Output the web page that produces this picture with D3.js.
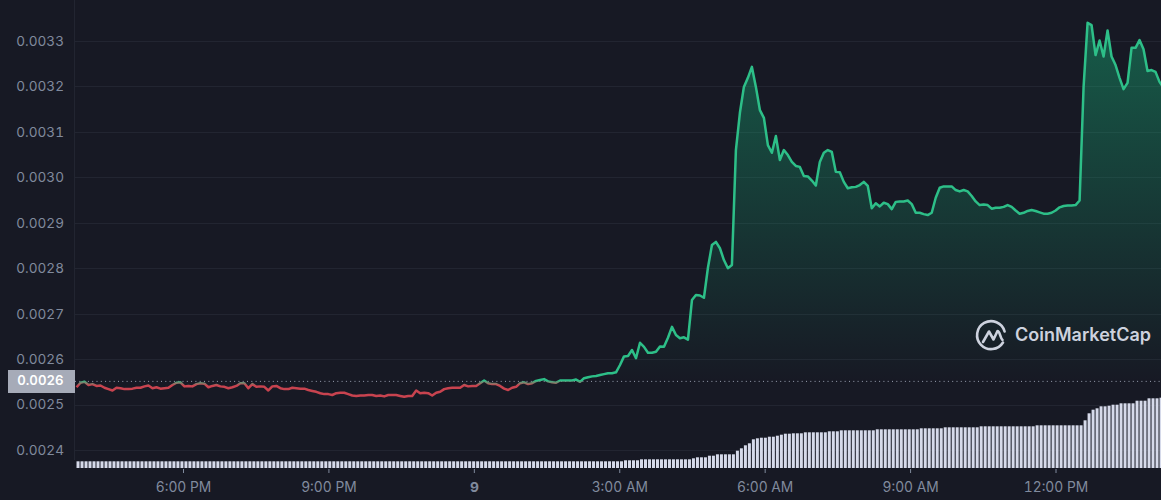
<!DOCTYPE html>
<html>
<head>
<meta charset="utf-8">
<script src="https://cdn.jsdelivr.net/npm/d3@7/dist/d3.min.js"></script>
<style>
html,body{margin:0;padding:0;background:#171924;overflow:hidden}
svg{display:block}
text{font-family:Inter,"Noto Sans",sans-serif;font-variant-numeric:tabular-nums}
</style>
</head>
<body>
<svg id="chart" width="1161" height="500"></svg>
<script>
// Price, in millionths (0.002538 = 2538)
const priceMillionths = [
2538,2548,2550,2543,2545,2541,2542,2537,2534,2531,
2537,2536,2534,2534,2535,2537,2537,2540,2542,2536,
2538,2535,2536,2537,2543,2548,2549,2540,2541,2540,
2545,2547,2546,2538,2541,2543,2540,2539,2536,2538,
2541,2547,2547,2536,2545,2539,2540,2539,2531,2540,
2541,2536,2534,2534,2537,2536,2535,2535,2532,2530,
2528,2525,2523,2523,2521,2525,2526,2526,2523,2520,
2519,2520,2520,2521,2521,2519,2520,2518,2521,2521,
2521,2519,2517,2519,2519,2531,2525,2526,2525,2520,
2526,2528,2534,2536,2537,2537,2537,2543,2540,2541,
2541,2547,2553,2547,2545,2545,2541,2535,2532,2537,
2539,2547,2549,2545,2547,2552,2554,2556,2551,2549,
2548,2553,2553,2553,2553,2555,2550,2558,2560,2562,
2563,2565,2567,2569,2569,2571,2587,2606,2607,2620,
2602,2636,2627,2614,2614,2616,2628,2627,2647,2671,
2653,2646,2648,2643,2730,2741,2740,2735,2801,2851,
2858,2844,2818,2800,2807,3060,3142,3199,3219,3243,
3199,3148,3131,3071,3054,3091,3038,3060,3049,3034,
3025,3023,3003,3002,2993,2982,3034,3054,3060,3056,
3012,3011,2990,2976,2978,2979,2983,2990,2981,2932,
2943,2936,2944,2941,2930,2946,2947,2947,2949,2941,
2922,2922,2919,2917,2922,2955,2977,2980,2980,2980,
2972,2969,2972,2969,2959,2947,2939,2940,2939,2931,
2933,2933,2935,2939,2935,2927,2920,2922,2926,2928,
2926,2923,2920,2920,2922,2927,2934,2937,2938,2938,
2939,2949,3199,3340,3335,3269,3301,3266,3323,3266,
3247,3219,3194,3208,3285,3285,3302,3282,3234,3236,
3232,3210,3197
];
// Volume bars, relative units
const volumes = [
67,67,67,67,67,67,67,67,67,67,67,67,67,67,67,67,67,67,67,67,
67,67,67,67,67,67,67,67,67,67,67,67,67,67,67,67,67,67,67,67,
67,67,67,67,67,67,67,67,67,67,67,67,67,67,67,67,67,67,67,67,
67,67,67,67,67,67,67,67,67,67,67,67,67,67,67,67,67,67,67,67,
67,67,67,67,67,67,67,67,67,67,67,67,67,67,67,67,67,67,67,67,
67,67,67,67,67,67,67,67,67,67,67,67,67,67,67,67,67,67,67,67,
67,67,67,67,67,67,67,67,67,67,67,67,67,67,67,67,67,
77,77,77,77,
87,87,87,87,87,87,87,87,87,87,87,87,87,
97,107,107,107,123,123,
137,137,137,137,137,
173,197,227,247,287,297,303,303,313,313,323,333,343,343,347,347,347,
357,357,357,357,357,357,
367,367,367,
377,377,377,377,377,377,377,377,377,
387,387,387,387,387,387,387,387,387,387,387,
397,397,397,397,397,397,
407,407,407,407,407,407,407,407,407,
417,417,417,417,417,417,417,417,417,417,417,417,417,417,
427,427,427,427,427,427,427,427,427,427,427,427,477,
547,583,597,617,617,623,633,633,647,647,647,647,673,673,673,697,697,697,703,703
];
const baselinePrice = 0.002551;
const baselineLabel = "0.0026";
const priceTicks = [0.0024,0.0025,0.0026,0.0027,0.0028,0.0029,0.0030,0.0031,0.0032,0.0033];
const timeTicks = [
  new Date(2023,0,8,18,0), new Date(2023,0,8,21,0), new Date(2023,0,9,0,0), new Date(2023,0,9,3,0),
  new Date(2023,0,9,6,0), new Date(2023,0,9,9,0), new Date(2023,0,9,12,0)
];
const timeLabels = ["6:00 PM","9:00 PM","9","3:00 AM","6:00 AM","9:00 AM","12:00 PM"];
const brand = "CoinMarketCap";
const firstSample = new Date(2023,0,8,15,48,12);
const sampleSeconds = 296.8;

const prices = priceMillionths.map(v => v/1e6);
const times = prices.map((_,i) => new Date(firstSample.getTime() + i*sampleSeconds*1000));

const svg = d3.select("#chart");
const x = d3.scaleTime().domain([timeTicks[0],timeTicks[6]]).range([183,1055.5]);
const y = d3.scaleLinear().domain([0.0024,0.0033]).range([450,41]);
const yV = d3.scaleLinear().domain([0,700]).range([468,398]);
const baseY = y(baselinePrice);
const muted = "#808a9d";

const defs = svg.append("defs");
const stroke = defs.append("linearGradient").attr("id","strokeGrad").attr("gradientUnits","userSpaceOnUse")
  .attr("x1",0).attr("x2",0).attr("y1",baseY-1).attr("y2",baseY+4);
stroke.append("stop").attr("offset",0).attr("stop-color","#2dbf88");
stroke.append("stop").attr("offset",1).attr("stop-color","#c8434f");
const fill = defs.append("linearGradient").attr("id","fillGrad").attr("gradientUnits","userSpaceOnUse")
  .attr("x1",0).attr("x2",0).attr("y1",25).attr("y2",baseY);
fill.append("stop").attr("offset",0).attr("stop-color","#16c784").attr("stop-opacity",0.38);
fill.append("stop").attr("offset",1).attr("stop-color","#16c784").attr("stop-opacity",0);
defs.append("clipPath").attr("id","aboveBase").append("rect").attr("x",75).attr("y",0).attr("width",1086).attr("height",baseY);

// grid and axis frame
svg.append("g").selectAll("line").data(priceTicks).join("line")
  .attr("x1",75).attr("x2",1161).attr("y1",d=>Math.round(y(d))+0.5).attr("y2",d=>Math.round(y(d))+0.5)
  .attr("stroke","#222531");
svg.append("line").attr("x1",74.5).attr("x2",74.5).attr("y1",0).attr("y2",460).attr("stroke","#222531");

// y tick labels
const yAxis = d3.axisLeft(y).tickValues(priceTicks).tickFormat(d3.format(".4f")).tickSize(0).tickPadding(0);
const gy = svg.append("g").attr("transform","translate(64,0)").call(yAxis);
gy.select(".domain").remove();
gy.selectAll("text").attr("fill",muted).attr("font-size",13.6).style("font-family","Inter,sans-serif");

// x axis
const xAxis = d3.axisBottom(x).tickValues(timeTicks).tickFormat((d,i)=>timeLabels[i]).tickSize(4).tickPadding(9);
const gx = svg.append("g").attr("transform","translate(0,469)").call(xAxis);
gx.select(".domain").remove();
gx.selectAll("line").attr("stroke",muted);
gx.selectAll("text").attr("fill",muted).attr("font-size",13.8)
  .attr("font-weight",(d,i)=>timeLabels[i]==="9"?700:400).style("font-family","Inter,sans-serif");

// volume bars
svg.append("g").selectAll("rect").data(volumes).join("rect")
  .attr("x",(d,i)=>x(times[i])).attr("width",3)
  .attr("y",d=>yV(d)).attr("height",d=>yV(0)-yV(d))
  .attr("fill","#d6daea");

// area above the baseline
const area = d3.area().x((d,i)=>x(times[i])).y0(baseY).y1(d=>y(d));
svg.append("path").datum(prices).attr("d",area).attr("fill","url(#fillGrad)").attr("clip-path","url(#aboveBase)");

// baseline
svg.append("line").attr("x1",75).attr("x2",1161).attr("y1",baseY).attr("y2",baseY)
  .attr("stroke","#9aa1b1").attr("stroke-dasharray","1 3.3");

// price line
const line = d3.line().x((d,i)=>x(times[i])).y(d=>y(d));
svg.append("path").datum(prices).attr("d",line).attr("fill","none")
  .attr("stroke","url(#strokeGrad)").attr("stroke-width",2.5).attr("stroke-linejoin","round");

// baseline tag
svg.append("rect").attr("x",8).attr("y",370).attr("width",67).attr("height",23).attr("fill","#a6abb8");
svg.append("text").attr("x",63.5).attr("y",baseY+0.5).attr("text-anchor","end").attr("dominant-baseline","middle")
  .attr("fill","#fff").attr("font-size",13.2).attr("font-weight",600).text(baselineLabel);

// watermark
const logo = svg.append("g").attr("fill","none").attr("stroke","#cdd2de").attr("stroke-width",2.6)
  .attr("stroke-linecap","round").attr("stroke-linejoin","round");
logo.append("path").attr("d","M1004.6 331.5A14 14 0 1 0 1003 342.5");
logo.append("path").attr("d","M983 342L989 331.5L993.5 339.5L997.5 331C1000 331 1000 338 1002.5 340");
svg.append("text").attr("x",1015).attr("y",336.5).attr("dominant-baseline","middle")
  .attr("fill","#cdd2de").attr("font-size",18).attr("font-weight",600).style("font-variant-numeric","normal").text(brand);
</script>
</body>
</html>
